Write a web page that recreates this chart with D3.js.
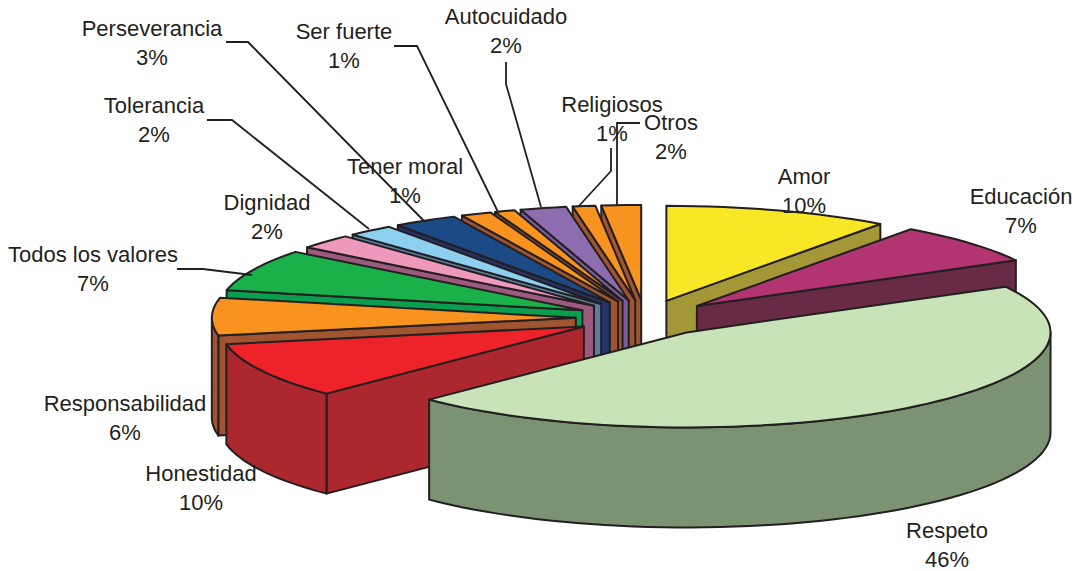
<!DOCTYPE html>
<html>
<head>
<meta charset="utf-8">
<script src="https://cdn.jsdelivr.net/npm/d3@7"></script>
<style>
  html, body { margin: 0; padding: 0; background: #fff; }
  text { font-family: "Liberation Sans", Arial, sans-serif; font-size: 22px; fill: #231f20; text-anchor: middle; }
</style>
</head>
<body>
<div id="chart"></div>
<script>
const categories = ["Amor", "Educación", "Respeto", "Honestidad", "Responsabilidad", "Todos los valores", "Dignidad",
    "Tolerancia", "Perseverancia", "Tener moral", "Ser fuerte", "Autocuidado", "Religiosos", "Otros"];
// printed labels
const percents = [10, 7, 46, 10, 6, 7, 2, 2, 3, 1, 1, 2, 1, 2];
// unrounded shares
const shares = [10, 7, 45.5, 9.5, 6.4, 7.15, 2.49, 2.06, 2.85, 1.35, 0.9, 2.05, 1, 1.75];

const topColors = ["#f9e625", "#b23571", "#c8e3b8", "#ee2229", "#f7931e", "#1ab14b", "#ee99bb",
    "#8ccfee", "#1c4a87", "#f7931e", "#f7931e", "#8d6daf", "#f7931e", "#f7931e"];
const sideColors = ["#a39838", "#692a45", "#7b9372", "#ad272e", "#a05430", "#0a9f4f", "#9b5a7e",
    "#5a7f9f", "#24346b", "#a05430", "#a05430", "#7a5ca0", "#a05430", "#a05430"];

// label centre and first baseline, same order as categories
const labelPos = [[804, 184], [1021, 204], [947, 538], [201, 481], [125, 411], [93, 262], [267, 210],
    [154, 113], [152, 36], [405, 174], [344, 39], [506, 24], [612, 112], [671, 130]];

const leaders = [
    [[226, 42], [248, 42], [425, 222]],
    [[394, 46], [417, 46], [498, 212]],
    [[506, 62], [506, 84], [541, 207]],
    [[611, 148], [611, 171], [578, 207]],
    [[640, 123], [617, 123], [617, 206]],
    [[207, 120], [232, 120], [369, 229]],
    [[177, 269], [203, 269], [252, 275]]
];

const width = 1076, height = 571;
const cx = 645, cy = 318, rx = 364, ry = 95, depth = 100, explode = 0.19;
const ink = "#231f20";

const svg = d3.select("#chart").append("svg")
    .attr("width", width)
    .attr("height", height)
    .style("display", "block");

const arcs = d3.pie().sort(null)(shares).map((d, i) => {
    const mid = (d.startAngle + d.endAngle) / 2;
    return {
        i: i,
        a0: d.startAngle,
        a1: d.endAngle,
        mid: mid,
        ox: cx + rx * explode * Math.sin(mid),
        oy: cy - ry * explode * Math.cos(mid)
    };
});

const line = d3.line();
const rim = (s, a) => [s.ox + rx * Math.sin(a), s.oy - ry * Math.cos(a)];
const drop = p => [p[0], p[1] + depth];

function arcPoints(s, a0, a1) {
    const n = Math.max(2, Math.ceil((a1 - a0) / 0.04));
    return d3.range(n + 1).map(k => rim(s, a0 + (a1 - a0) * k / n));
}

function shape(g, pts, fill) {
    g.append("path")
        .attr("d", line(pts) + "Z")
        .attr("fill", fill)
        .attr("stroke", ink)
        .attr("stroke-width", 2)
        .attr("stroke-linejoin", "round");
}

// back slices first, so the front ones cover them
const order = arcs.slice().sort((a, b) => Math.abs(b.mid - Math.PI) - Math.abs(a.mid - Math.PI));

order.forEach(s => {
    const g = svg.append("g").attr("class", "slice");
    const apex = [s.ox, s.oy];
    const side = sideColors[s.i];

    // radial walls, only the one facing us
    if (Math.sin(s.a0) < 0) {
        const p = rim(s, s.a0);
        shape(g, [apex, p, drop(p), drop(apex)], side);
    }
    if (Math.sin(s.a1) > 0) {
        const p = rim(s, s.a1);
        shape(g, [apex, p, drop(p), drop(apex)], side);
    }
    // outer wall, front half of the rim
    const f0 = Math.max(s.a0, Math.PI / 2), f1 = Math.min(s.a1, Math.PI * 1.5);
    if (f1 > f0) {
        const edge = arcPoints(s, f0, f1);
        shape(g, edge.concat(edge.map(drop).reverse()), side);
    }
    shape(g, [apex].concat(arcPoints(s, s.a0, s.a1)), topColors[s.i]);
});

svg.append("g").selectAll("path")
    .data(leaders)
    .enter().append("path")
    .attr("d", d => line(d))
    .attr("fill", "none")
    .attr("stroke", ink)
    .attr("stroke-width", 1.8);

const labels = svg.append("g").selectAll("text")
    .data(categories)
    .enter().append("text")
    .attr("x", (d, i) => labelPos[i][0])
    .attr("y", (d, i) => labelPos[i][1]);
labels.append("tspan").text(d => d);
labels.append("tspan")
    .attr("x", (d, i) => labelPos[i][0])
    .attr("dy", 28.5)
    .text((d, i) => percents[i] + "%");
</script>
</body>
</html>
